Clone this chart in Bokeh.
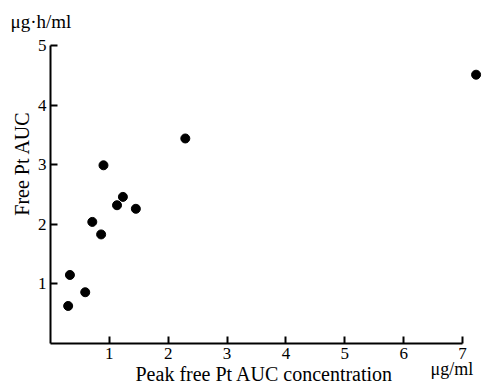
import math
from bokeh.plotting import figure
from bokeh.models import Range1d, Label, FixedTicker
from bokeh.embed import file_html
from bokeh.resources import INLINE

peak_conc = [0.30, 0.33, 0.59, 0.71, 0.86, 0.90, 1.13, 1.23, 1.45, 2.29, 7.23]
free_auc = [0.63, 1.15, 0.86, 2.04, 1.83, 2.99, 2.32, 2.46, 2.26, 3.44, 4.51]
x_ticks = [1, 2, 3, 4, 5, 6, 7]
y_ticks = [1, 2, 3, 4, 5]

FONT = "Liberation Serif"
W, H = 484, 388

p = figure(width=W, height=H, output_backend="svg", toolbar_location=None,
           x_range=Range1d(-0.8495, 7.373), y_range=Range1d(-0.755, 5.755),
           min_border=0)
p.outline_line_color = None
p.grid.visible = False
p.background_fill_color = "white"
p.border_fill_color = "white"

p.scatter(peak_conc, free_auc, size=9, color="black")

for ax, ticks, b in ((p.xaxis[0], x_ticks, (0, 7)), (p.yaxis[0], y_ticks, (0, 5))):
    ax.ticker = FixedTicker(ticks=ticks)
    ax.bounds = b
    ax.fixed_location = 0
    ax.minor_tick_line_color = None
    ax.major_tick_in = 7
    ax.major_tick_out = 0
    ax.axis_line_width = 2
    ax.major_tick_line_width = 2
    ax.axis_line_color = "black"
    ax.major_tick_line_color = "black"
    ax.major_label_text_font = FONT
    ax.major_label_text_font_size = "17px"
    ax.major_label_text_color = "black"

p.xaxis.major_label_standoff = 4
p.yaxis.major_label_standoff = 4

def add_text(x, y, text, size, align="left", angle=0.0):
    p.add_layout(Label(x=x, y=y, x_units="screen", y_units="screen", text=text,
                       text_font=FONT, text_font_size=size, text_color="black",
                       text_align=align, text_baseline="alphabetic", angle=angle))

add_text(10, H - 21, "μg·h/ml", "19px")
add_text(21, H - 163, "Free Pt AUC", "20px", align="center", angle=math.pi / 2)
add_text(135, 15, "Peak free Pt AUC concentration", "20px")
add_text(430, 20, "μg/ml", "18px")

open("out.html", "w").write(file_html(p, INLINE))
